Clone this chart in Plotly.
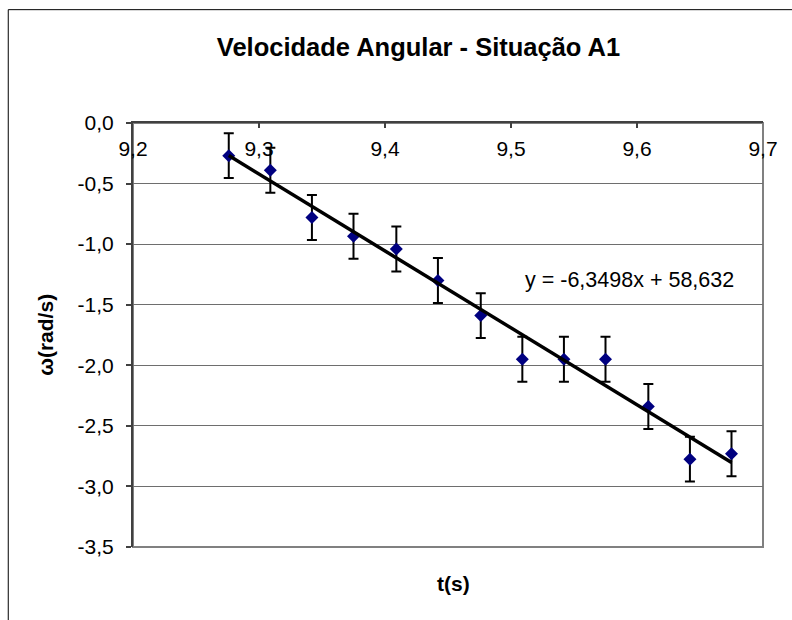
import plotly.graph_objects as go

# Data
t_values = [9.276, 9.309, 9.342, 9.375, 9.409, 9.442, 9.476, 9.509, 9.542, 9.575, 9.609, 9.642, 9.675]
omega_values = [-0.27, -0.39, -0.78, -0.935, -1.04, -1.30, -1.59, -1.95, -1.95, -1.95, -2.34, -2.775, -2.73]
omega_errors = [0.185] * len(t_values)

trend_slope = -6.3498
trend_intercept = 58.632

x_tick_vals = [9.2, 9.3, 9.4, 9.5, 9.6, 9.7]
x_tick_labels = ["9,2", "9,3", "9,4", "9,5", "9,6", "9,7"]
y_tick_vals = [0.0, -0.5, -1.0, -1.5, -2.0, -2.5, -3.0, -3.5]
y_tick_labels = ["0,0", "-0,5", "-1,0", "-1,5", "-2,0", "-2,5", "-3,0", "-3,5"]

title_text = "Velocidade Angular - Situação A1"
x_title = "t(s)"
y_title = "ω(rad/s)"

FONT = "Liberation Sans, Arial, sans-serif"

trend_x = [t_values[0], t_values[-1]]
trend_y = [trend_slope * x + trend_intercept for x in trend_x]
eq_text = "y = " + str(trend_slope).replace(".", ",") + "x + " + str(trend_intercept).replace(".", ",")

fig = go.Figure()
fig.add_trace(go.Scatter(
    x=t_values, y=omega_values, mode="markers",
    marker=dict(symbol="diamond", size=10, color="#000080"),
    error_y=dict(type="data", array=omega_errors, visible=True, color="black", thickness=2, width=5),
    showlegend=False,
))
fig.add_trace(go.Scatter(
    x=trend_x, y=trend_y, mode="lines",
    line=dict(color="black", width=3.5), showlegend=False,
))

fig.update_layout(
    width=792, height=620,
    margin=dict(l=133, r=29, t=123, b=73),
    paper_bgcolor="white", plot_bgcolor="white",
    font=dict(family=FONT, size=21, color="black"),
    title=dict(text="<b>" + title_text + "</b>", x=418.5 / 792, xanchor="center",
               y=1 - 47 / 620, yanchor="middle", font=dict(size=25.5, family=FONT, color="black")),
    showlegend=False,
)

fig.update_xaxes(
    range=[9.2, 9.7], side="top", tickvals=x_tick_vals, ticktext=x_tick_labels,
    ticks="inside", ticklen=5, tickcolor="#404040", tickwidth=1.5,
    ticklabelposition="inside", ticklabeloverflow="allow", ticklabelstandoff=15,
    showline=True, linecolor="#404040", linewidth=2,
    showgrid=False, zeroline=False,
    tickfont=dict(size=21, family=FONT, color="black"),
)
fig.update_yaxes(
    range=[-3.5, 0], tickvals=y_tick_vals, ticktext=y_tick_labels,
    ticks="outside", ticklen=5, tickcolor="#404040", tickwidth=1.5,
    showline=True, linecolor="#404040", linewidth=2,
    showgrid=True, gridcolor="#6e6e6e", gridwidth=1, zeroline=False,
    tickfont=dict(size=21, family=FONT, color="black"),
    ticklabelstandoff=8,
)

# plot-area frame (gray) and outer chart border
fig.add_shape(type="rect", xref="paper", yref="paper", x0=0, y0=0, x1=1, y1=1,
              line=dict(color="#808080", width=2), layer="below")
fig.add_shape(type="rect", xref="paper", yref="paper", x0=-0.198, y0=-0.3, x1=1.2, y1=1.2673,
              line=dict(color="black", width=1), layer="below")

fig.add_annotation(text=eq_text, xref="x", yref="y", x=9.5937, y=-1.30,
                   showarrow=False, xanchor="center", yanchor="middle",
                   font=dict(size=21.5, family=FONT, color="black"))
fig.add_annotation(text="<b>" + x_title + "</b>", xref="paper", yref="paper",
                   x=0.508, y=-0.087, showarrow=False, xanchor="center", yanchor="middle",
                   font=dict(size=21, family=FONT, color="black"))
fig.add_annotation(text="<b>" + y_title + "</b>", xref="paper", yref="paper",
                   x=-0.14, y=0.5, showarrow=False, textangle=-90,
                   xanchor="center", yanchor="middle",
                   font=dict(size=21, family=FONT, color="black"))

fig.write_html("out.html", config={"displayModeBar": False},
               post_script="document.body.style.margin='0px';document.body.style.overflow='hidden';")
